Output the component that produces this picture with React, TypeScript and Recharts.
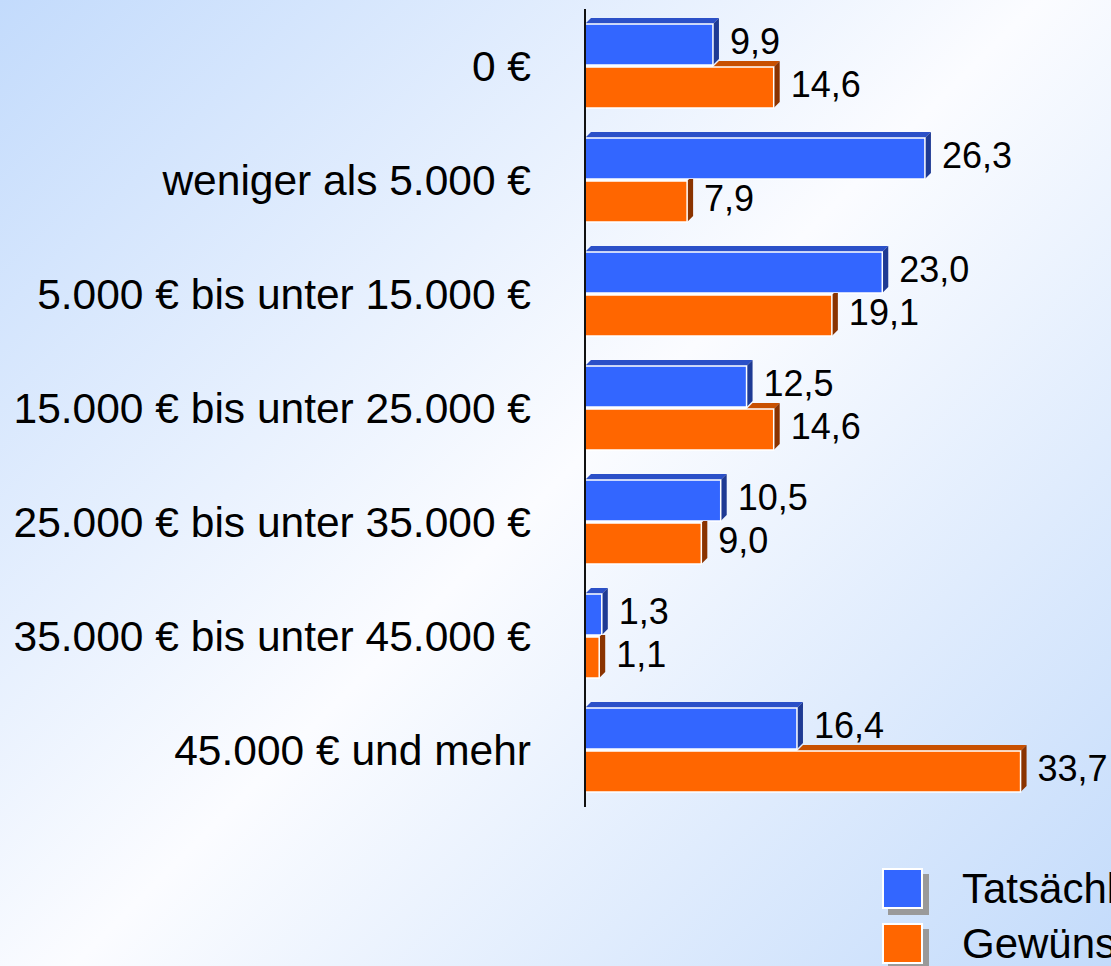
import { BarChart, Bar, XAxis, YAxis, LabelList } from 'recharts'

const categories = [
  '0 €',
  'weniger als 5.000 €',
  '5.000 € bis unter 15.000 €',
  '15.000 € bis unter 25.000 €',
  '25.000 € bis unter 35.000 €',
  '35.000 € bis unter 45.000 €',
  '45.000 € und mehr',
]
const tatsaechlich = [9.9, 26.3, 23.0, 12.5, 10.5, 1.3, 16.4]
const gewuenscht = [14.6, 7.9, 19.1, 14.6, 9.0, 1.1, 33.7]
const seriesNames = ['Tatsächliches Einkommen', 'Gewünschtes Einkommen']

const data = categories.map((name, i) => ({ name, tat: tatsaechlich[i], gew: gewuenscht[i] }))

const BLUE = { front: '#3366ff', top: '#2b50c8', side: '#1e3a94' }
const ORANGE = { front: '#ff6600', top: '#c85000', side: '#8a3300' }
const D = 6 // 3D depth
const FONT = '"Liberation Sans", Arial, sans-serif'

function BlueBar(props: any) {
  const { x, y, width, height } = props
  if (!width || width <= 0) return null
  const r = x + width
  return (
    <g>
      <polygon points={`${x},${y} ${r},${y} ${r + D},${y - D} ${x + D},${y - D}`} fill={BLUE.top} />
      <polygon points={`${r},${y} ${r + D},${y - D} ${r + D},${y + height - D} ${r},${y + height}`} fill={BLUE.side} />
      <rect x={x} y={y} width={width} height={height} fill={BLUE.front} stroke="#fff" strokeWidth={1.5} />
    </g>
  )
}

function OrangeBar(props: any) {
  const { x, y, width, height, payload } = props
  if (!width || width <= 0) return null
  const r = x + width
  // right end of the blue bar above, so the hidden parts of the 3D faces are left out
  const blueR = x + payload.tat * (width / payload.gew)
  const top = r > blueR
    ? <polygon points={`${blueR},${y} ${r},${y} ${r + D},${y - D} ${blueR + D},${y - D}`} fill={ORANGE.top} />
    : null
  const side = r > blueR
    ? `${r},${y} ${r + D},${y - D} ${r + D},${y + height - D} ${r},${y + height}`
    : `${r},${y} ${r + 2},${y - 2} ${r + D},${y - 2} ${r + D},${y + height - D} ${r},${y + height}`
  return (
    <g>
      {top}
      <polygon points={side} fill={ORANGE.side} />
      <rect x={x} y={y} width={width} height={height} fill={ORANGE.front} stroke="#fff" strokeWidth={1.5} />
    </g>
  )
}

function ValueLabel(props: any) {
  const { x, y, width, height, value } = props
  return (
    <text
      x={x + width + D + 11}
      y={y + height / 2 - D / 2}
      dominantBaseline="central"
      fontSize={36}
      fontFamily={FONT}
      fill="#000"
    >
      {Number(value).toFixed(1).replace('.', ',')}
    </text>
  )
}

function CategoryTick(props: any) {
  const { x, y, payload } = props
  return (
    <text x={x} y={y} textAnchor="end" dominantBaseline="central" fontSize={42.5} fontFamily={FONT} fill="#000">
      {payload.value}
    </text>
  )
}

function LegendItem({ color, label, top }: { color: string; label: string; top: number }) {
  return (
    <div style={{ position: 'absolute', left: 882, top, height: 41, display: 'flex', alignItems: 'center' }}>
      <div
        style={{
          width: 41,
          height: 41,
          flexShrink: 0,
          boxSizing: 'border-box',
          border: '2px solid #fff',
          background: color,
          boxShadow: '6px 6px 0 #9a9a9a',
        }}
      />
      <span style={{ marginLeft: 39, fontSize: 42, fontFamily: FONT, color: '#000', whiteSpace: 'nowrap' }}>{label}</span>
    </div>
  )
}

export default function App() {
  return (
    <div
      style={{
        position: 'fixed',
        left: 0,
        top: 0,
        width: 1111,
        height: 966,
        overflow: 'hidden',
        background: 'linear-gradient(135deg, #c3dbfc 0%, #fbfcff 50%, #c3dbfb 100%)',
      }}
    >
      <BarChart
        width={1111}
        height={966}
        data={data}
        layout="vertical"
        margin={{ top: 9, right: 9, bottom: 159, left: 0 }}
        barGap={2}
        barSize={41}
        style={{ fontFamily: FONT }}
      >
        <XAxis type="number" domain={[0, 40]} hide />
        <YAxis
          type="category"
          dataKey="name"
          width={585}
          tickSize={0}
          tickMargin={54}
          tickLine={false}
          axisLine={{ stroke: '#111', strokeWidth: 2 }}
          tick={<CategoryTick />}
          interval={0}
        />
        <Bar dataKey="tat" name={seriesNames[0]} shape={<BlueBar />} isAnimationActive={false}>
          <LabelList dataKey="tat" content={<ValueLabel />} />
        </Bar>
        <Bar dataKey="gew" name={seriesNames[1]} shape={<OrangeBar />} isAnimationActive={false}>
          <LabelList dataKey="gew" content={<ValueLabel />} />
        </Bar>
      </BarChart>
      <LegendItem color={BLUE.front} label={seriesNames[0]} top={868} />
      <LegendItem color={ORANGE.front} label={seriesNames[1]} top={923} />
    </div>
  )
}
